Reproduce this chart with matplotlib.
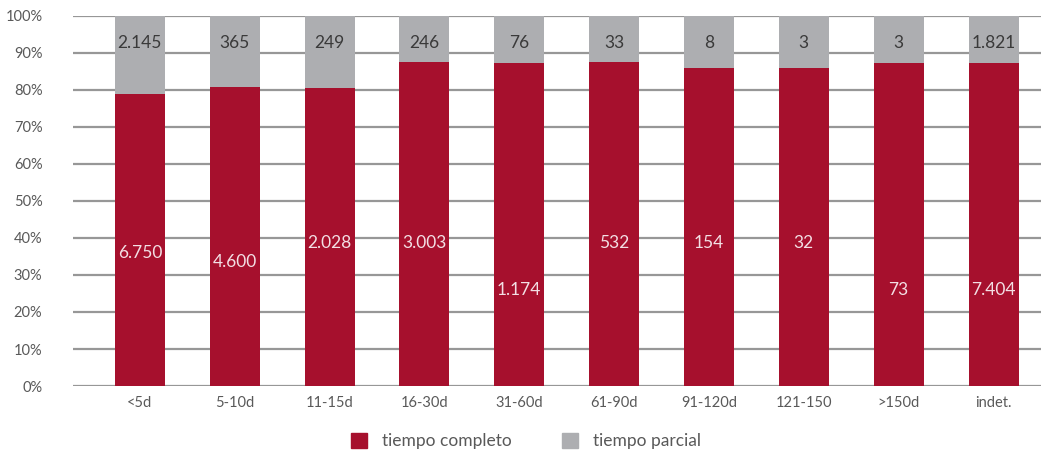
#!/usr/bin/env python3.12
"""Stacked 100% bars: tiempo completo vs tiempo parcial by duration."""

import matplotlib
matplotlib.use("Agg")
import matplotlib.pyplot as plt
import numpy as np
from matplotlib.patches import Patch

categories = ["<5d", "5-10d", "11-15d", "16-30d", "31-60d",
              "61-90d", "91-120d", "121-150", ">150d", "indet."]
# share (%) of tiempo completo as drawn in the bars
completo_pct = [78.9, 80.8, 80.5, 87.6, 87.3, 87.6, 85.9, 85.9, 87.3, 87.3]
# printed counts
completo_lbl = ["6.750", "4.600", "2.028", "3.003", "1.174",
                "532", "154", "32", "73", "7.404"]
parcial_lbl = ["2.145", "365", "249", "246", "76", "33", "8", "3", "3", "1.821"]
# vertical position (%) of the label inside the red part
completo_lbl_y = [36.0, 33.6, 38.6, 38.6, 26.0, 38.6, 38.6, 38.6, 26.0, 26.0]
parcial_lbl_y = 92.7

RED = "#a6102d"
GREY = "#adaeb1"
GRID = "#979797"
TXT = "#595959"

plt.rcParams["font.family"] = ["Lato", "DejaVu Sans"]

fig = plt.figure(figsize=(10.41, 4.53), dpi=100)
ax = fig.add_axes([0.0701, 0.1479, 0.9299, 0.8168])

x = np.arange(len(categories))
comp = np.array(completo_pct)
parc = 100 - comp
w = 0.526

ax.bar(x, comp, width=w, color=RED, zorder=3)
ax.bar(x, parc, width=w, bottom=comp, color=GREY, zorder=3)

for xi, lbl, ly in zip(x, completo_lbl, completo_lbl_y):
    ax.text(xi, ly, lbl, ha="center", va="center", fontsize=12.5,
            color="#f3dfe4", zorder=4)
for xi, lbl in zip(x, parcial_lbl):
    ax.text(xi, parcial_lbl_y, lbl, ha="center", va="center", fontsize=12.5,
            color="#3a3a3a", zorder=4)

ax.set_xlim(-0.705, 9.5)
ax.set_ylim(0, 100)
ax.set_yticks(np.arange(0, 101, 10))
ax.set_yticklabels([f"{v}%" for v in range(0, 101, 10)])
ax.set_xticks(x)
ax.set_xticklabels(categories)
ax.tick_params(axis="y", length=0, pad=22, labelsize=10.5, labelcolor=TXT)
ax.tick_params(axis="x", length=0, pad=7, labelsize=10.5, labelcolor=TXT)
ax.grid(axis="y", color=GRID, lw=1.6, zorder=1)
for spine in ax.spines.values():
    spine.set_visible(False)

handles = [Patch(color=RED, label="tiempo completo"),
           Patch(color=GREY, label="tiempo parcial")]
fig.legend(handles=handles, loc="center", bbox_to_anchor=(0.505, 0.026),
           ncol=2, frameon=False, fontsize=12.5, labelcolor=TXT,
           handlelength=0.92, handleheight=0.92, handletextpad=0.86,
           columnspacing=2.9)

fig.savefig("out.png", dpi=100)
